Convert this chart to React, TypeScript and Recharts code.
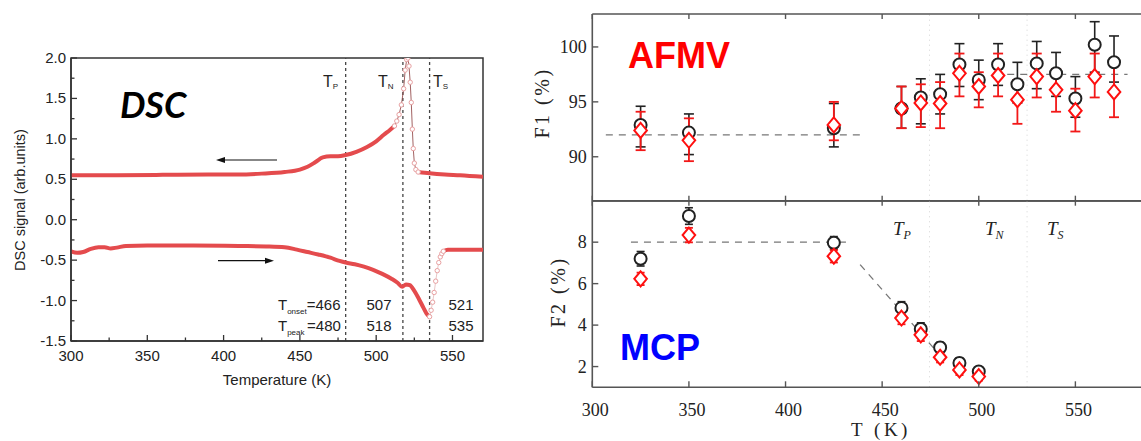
import React from "react";
import {
  LineChart,
  ComposedChart,
  Line,
  Scatter,
  XAxis,
  YAxis,
  ErrorBar,
  ReferenceLine,
  ReferenceArea,
} from "recharts";

const SANS = "'Liberation Sans', Arial, sans-serif";
const SERIF = "'Liberation Serif', 'Times New Roman', serif";

// ---------------- DSC (left panel) ----------------
const dscXTicks = [300, 325, 350, 375, 400, 425, 450, 475, 500, 525, 550];
const dscYTicks = [-1.5, -1.25, -1, -0.75, -0.5, -0.25, 0, 0.25, 0.5, 0.75, 1, 1.25, 1.5, 1.75, 2];
const dscMarkers = [480, 517.5, 535];

// cooling curve (upper)
const coolT1 = [300, 330, 360, 390, 410, 425, 440, 450, 455, 460, 465, 470, 475, 480, 487, 494, 500, 505, 509, 512];
const coolV1 = [0.55, 0.55, 0.555, 0.56, 0.56, 0.57, 0.59, 0.62, 0.655, 0.71, 0.77, 0.785, 0.785, 0.8, 0.84, 0.9, 0.97, 1.05, 1.11, 1.16];
const coolPeakT = [512, 513.5, 515, 516.5, 518, 519, 520, 520.8, 521.5, 522.3, 523, 523.7, 524.3, 525, 526, 527.5];
const coolPeakV = [1.16, 1.22, 1.3, 1.42, 1.62, 1.85, 1.98, 2.0, 1.9, 1.7, 1.45, 1.12, 0.88, 0.7, 0.62, 0.59];
const coolT2 = [527.5, 535, 545, 555, 570];
const coolV2 = [0.59, 0.575, 0.56, 0.55, 0.53];

// heating curve (lower)
const heatT1 = [300, 304, 308, 313, 318, 322, 326, 330, 336, 350, 380, 410, 430, 440, 448, 455, 462, 470, 476, 480, 486, 492, 498, 504, 510, 514, 517, 519.5, 522, 525, 528, 531, 533, 535];
const heatV1 = [-0.39, -0.41, -0.4, -0.36, -0.34, -0.34, -0.355, -0.345, -0.325, -0.32, -0.32, -0.325, -0.33, -0.34, -0.37, -0.4, -0.43, -0.47, -0.51, -0.53, -0.55, -0.58, -0.62, -0.67, -0.73, -0.78, -0.83, -0.8, -0.81, -0.88, -0.98, -1.09, -1.16, -1.2];
const heatDipT = [535, 536, 537, 538, 539, 540, 541, 542, 543, 544];
const heatDipV = [-1.2, -1.12, -1.02, -0.9, -0.76, -0.63, -0.53, -0.46, -0.42, -0.39];
const heatT2 = [544, 547, 555, 570];
const heatV2 = [-0.39, -0.37, -0.37, -0.37];

// ---------------- F1 / F2 (right panels) ----------------
const rXTicks = [300, 350, 400, 450, 500, 550, 600];
const f1YTicks = [90, 95, 100];
const f2YTicks = [2, 4, 6, 8];

const f1T = [325, 350, 425, 460, 470, 480, 490, 500, 510, 520, 530, 540, 550, 560, 570];
const f1Black = [92.9, 92.2, 92.6, 94.4, 95.4, 95.7, 98.4, 97.0, 98.4, 96.6, 98.5, 97.6, 95.3, 100.2, 98.6];
const f1BlackLo = [2.0, 2.0, 1.7, 1.8, 2.4, 1.8, 2.0, 1.8, 1.9, 1.7, 2.3, 2.1, 1.7, 2.5, 1.8];
const f1BlackHi = [1.7, 1.7, 2.25, 2.0, 1.7, 1.8, 1.9, 1.8, 1.9, 2.0, 2.0, 1.9, 2.0, 2.1, 2.4];
const f1Red = [92.4, 91.5, 92.9, 94.4, 94.9, 94.85, 97.6, 96.4, 97.4, 95.2, 97.3, 96.1, 94.2, 97.3, 95.9];
const f1RedLo = [1.8, 1.9, 1.4, 1.8, 2.2, 2.25, 2.1, 1.9, 1.9, 2.2, 1.9, 2.0, 1.9, 1.9, 2.3];
const f1RedHi = [1.7, 2.0, 2.1, 2.0, 1.7, 1.95, 1.8, 1.3, 2.0, 1.8, 2.1, 1.9, 2.0, 2.1, 2.4];

const f2T = [325, 350, 425, 460, 470, 480, 490, 500];
const f2Black = [7.2, 9.26, 7.97, 4.83, 3.81, 2.92, 2.17, 1.76];
const f2BlackErr = [0.35, 0.4, 0.3, 0.3, 0.3, 0.25, 0.25, 0.2];
const f2Red = [6.23, 8.34, 7.32, 4.34, 3.53, 2.45, 1.84, 1.52];
const f2RedErr = [0.3, 0.35, 0.3, 0.3, 0.3, 0.25, 0.25, 0.2];

// guide lines (dashed) and transition markers (dotted)
const f1GuideA = { x: [307, 441], y: [92, 92] };
const f1GuideB = { x: [508, 577], y: [97.5, 97.5] };
const f2GuideA = { x: [320, 434], y: [8, 8] };
const f2GuideB = { x: [438.6, 478], y: [6.92, 2.75] };
const rMarkers = [474.5, 525];

const pts = (t: number[], v: number[]) => t.map((T, i) => ({ T, v: v[i] }));
const ptsErr = (t: number[], v: number[], lo: number[], hi: number[]) =>
  t.map((T, i) => ({ T, v: v[i], e: [lo[i], hi[i]] }));
const seg = (g: { x: number[]; y: number[] }) => [
  { x: g.x[0], y: g.y[0] },
  { x: g.x[1], y: g.y[1] },
];

// ---------------- tick renderers ----------------
const DscXTick = (props: any) => {
  const { x, y, payload } = props;
  const v = payload.value;
  const major = v % 50 === 0;
  return (
    <g>
      <line x1={x} x2={x} y1={y} y2={y - (major ? 6 : 3.5)} stroke="#333" strokeWidth={1.3} />
      {major && (
        <text x={x} y={y + 20} textAnchor="middle" fontFamily={SANS} fontSize={15} fill="#222">
          {v}
        </text>
      )}
    </g>
  );
};

const DscYTick = (props: any) => {
  const { x, y, payload } = props;
  const v = payload.value;
  const major = Math.abs(v * 2 - Math.round(v * 2)) < 1e-6;
  return (
    <g>
      <line x1={x} x2={x + (major ? 6 : 3.5)} y1={y} y2={y} stroke="#333" strokeWidth={1.3} />
      {major && (
        <text x={x - 5} y={y + 5} textAnchor="end" fontFamily={SANS} fontSize={15} fill="#222">
          {v.toFixed(1)}
        </text>
      )}
    </g>
  );
};

const RXTickLabel = (props: any) => {
  const { x, y, payload } = props;
  return (
    <g>
      <line x1={x} x2={x} y1={y} y2={y - 6} stroke="#555" strokeWidth={1.4} />
      {payload.value < 600 && (
        <text x={x + 3} y={y + 28.5} textAnchor="middle" fontFamily={SERIF} fontSize={18} fill="#222">
          {payload.value}
        </text>
      )}
    </g>
  );
};
const RXTickUp = (props: any) => (
  <line x1={props.x} x2={props.x} y1={props.y} y2={props.y - 5} stroke="#555" strokeWidth={1.4} />
);
const RXTickDown = (props: any) => (
  <line x1={props.x} x2={props.x} y1={props.y} y2={props.y + 5} stroke="#555" strokeWidth={1.4} />
);
const RYTick = (props: any) => {
  const { x, y, payload } = props;
  return (
    <g>
      <line x1={x} x2={x + 6} y1={y} y2={y} stroke="#555" strokeWidth={1.4} />
      <text x={x - 5.5} y={y + 6} textAnchor="end" fontFamily={SERIF} fontSize={18} fill="#222">
        {payload.value}
      </text>
    </g>
  );
};

// ---------------- marker shapes ----------------
const OpenCircle = (p: any) => (
  <circle cx={p.cx} cy={p.cy} r={6} fill="#fff" stroke="#222" strokeWidth={2} />
);
const OpenDiamond = (p: any) => (
  <polygon
    points={`${p.cx},${p.cy - 7.5} ${p.cx + 6.3},${p.cy} ${p.cx},${p.cy + 7.5} ${p.cx - 6.3},${p.cy}`}
    fill="#fff"
    stroke="#ff1010"
    strokeWidth={2}
  />
);

const axisR = { stroke: "#555", strokeWidth: 1.6 };
const axisL = { stroke: "#333", strokeWidth: 1.5 };
const RED = "#e44b4d";

export default function App() {
  return (
    <div
      style={{
        position: "absolute",
        left: 0,
        top: 0,
        width: 1141,
        height: 441,
        overflow: "hidden",
        background: "#fff",
      }}
    >
      {/* ---------- DSC panel ---------- */}
      <div style={{ position: "absolute", left: 0, top: 0 }}>
        <LineChart width={500} height={400} margin={{ top: 58, right: 17, bottom: 29, left: 21 }}>
          <XAxis
            type="number"
            dataKey="T"
            domain={[300, 570]}
            allowDataOverflow
            ticks={dscXTicks}
            interval={0}
            height={30}
            tickSize={0}
            tickMargin={0}
            tickLine={false}
            axisLine={axisL}
            tick={(p: any) => <DscXTick {...p} />}
          />
          <YAxis
            type="number"
            domain={[-1.5, 2]}
            allowDataOverflow
            ticks={dscYTicks}
            interval={0}
            width={50}
            tickSize={0}
            tickMargin={0}
            tickLine={false}
            axisLine={axisL}
            tick={(p: any) => <DscYTick {...p} />}
          />
          <ReferenceArea x1={300} x2={570} y1={-1.5} y2={2} fill="none" stroke="#333" strokeWidth={1.5} />
          {dscMarkers.map((m) => (
            <ReferenceLine key={m} x={m} stroke="#444" strokeWidth={1.3} strokeDasharray="3 3" />
          ))}
          <Line data={pts(coolT1, coolV1)} dataKey="v" type="monotone" stroke={RED} strokeWidth={4} dot={false} isAnimationActive={false} />
          <Line data={pts(coolT2, coolV2)} dataKey="v" type="monotone" stroke={RED} strokeWidth={4} dot={false} isAnimationActive={false} />
          <Line
            data={pts(coolPeakT, coolPeakV)}
            dataKey="v"
            type="linear"
            stroke="#8a3a3a"
            strokeWidth={0.8}
            dot={{ r: 2.2, stroke: "#e8a0a1", strokeWidth: 1, fill: "#fff" }}
            isAnimationActive={false}
          />
          <Line data={pts(heatT1, heatV1)} dataKey="v" type="monotone" stroke={RED} strokeWidth={4} dot={false} isAnimationActive={false} />
          <Line data={pts(heatT2, heatV2)} dataKey="v" type="monotone" stroke={RED} strokeWidth={4} dot={false} isAnimationActive={false} />
          <Line
            data={pts(heatDipT, heatDipV)}
            dataKey="v"
            type="linear"
            stroke="#d9a0a0"
            strokeWidth={0.6}
            dot={{ r: 2.2, stroke: "#e8a0a1", strokeWidth: 1, fill: "#fff" }}
            isAnimationActive={false}
          />
        </LineChart>
      </div>

      {/* ---------- F1 panel ---------- */}
      <div style={{ position: "absolute", left: 540, top: 0 }}>
        <ComposedChart width={632} height={210} margin={{ top: 13, right: 0, bottom: 8.3, left: 12.3 }}>
          <XAxis
            xAxisId="b"
            type="number"
            dataKey="T"
            domain={[300, 600]}
            allowDataOverflow
            ticks={rXTicks}
            interval={0}
            height={1}
            tickSize={0}
            tickMargin={0}
            tickLine={false}
            axisLine={axisR}
            tick={(p: any) => <RXTickUp {...p} />}
          />
          <XAxis
            xAxisId="t"
            orientation="top"
            type="number"
            dataKey="T"
            domain={[300, 600]}
            allowDataOverflow
            ticks={rXTicks}
            interval={0}
            height={1}
            tickSize={0}
            tickMargin={0}
            tickLine={false}
            axisLine={axisR}
            tick={(p: any) => <RXTickDown {...p} />}
          />
          <YAxis
            type="number"
            domain={[86, 103]}
            allowDataOverflow
            ticks={f1YTicks}
            interval={0}
            width={40}
            tickSize={0}
            tickMargin={0}
            tickLine={false}
            axisLine={axisR}
            tick={(p: any) => <RYTick {...p} />}
          />
          <ReferenceLine xAxisId="b" y={86} stroke="#555" strokeWidth={1.6} />
          {rMarkers.map((m) => (
            <ReferenceLine key={m} xAxisId="b" x={m} stroke="#d4d4d4" strokeWidth={1} strokeDasharray="1 4" />
          ))}
          <ReferenceLine xAxisId="b" segment={seg(f1GuideA)} stroke="#777" strokeWidth={1.3} strokeDasharray="7 6" />
          <ReferenceLine xAxisId="b" segment={seg(f1GuideB)} stroke="#777" strokeWidth={1.3} strokeDasharray="7 6" />
          <Scatter
            xAxisId="b"
            data={ptsErr(f1T, f1Black, f1BlackLo, f1BlackHi)}
            dataKey="v"
            shape={(p: any) => <OpenCircle {...p} />}
            isAnimationActive={false}
          >
            <ErrorBar dataKey="e" direction="y" width={5} stroke="#222" strokeWidth={1.6} />
          </Scatter>
          <Scatter
            xAxisId="b"
            data={ptsErr(f1T, f1Red, f1RedLo, f1RedHi)}
            dataKey="v"
            shape={(p: any) => <OpenDiamond {...p} />}
            isAnimationActive={false}
          >
            <ErrorBar dataKey="e" direction="y" width={5} stroke="#f21818" strokeWidth={1.8} />
          </Scatter>
        </ComposedChart>
      </div>

      {/* ---------- F2 panel ---------- */}
      <div style={{ position: "absolute", left: 540, top: 190 }}>
        <ComposedChart width={632} height={251} margin={{ top: 9.7, right: 0, bottom: 0, left: 12.3 }}>
          <XAxis
            xAxisId="b"
            type="number"
            dataKey="T"
            domain={[300, 600]}
            allowDataOverflow
            ticks={rXTicks}
            interval={0}
            height={53.7}
            tickSize={0}
            tickMargin={0}
            tickLine={false}
            axisLine={axisR}
            tick={(p: any) => <RXTickLabel {...p} />}
          />
          <XAxis
            xAxisId="t"
            orientation="top"
            type="number"
            dataKey="T"
            domain={[300, 600]}
            allowDataOverflow
            ticks={rXTicks}
            interval={0}
            height={1}
            tickSize={0}
            tickMargin={0}
            tickLine={false}
            axisLine={axisR}
            tick={(p: any) => <RXTickDown {...p} />}
          />
          <YAxis
            type="number"
            domain={[1, 10]}
            allowDataOverflow
            ticks={f2YTicks}
            interval={0}
            width={40}
            tickSize={0}
            tickMargin={0}
            tickLine={false}
            axisLine={axisR}
            tick={(p: any) => <RYTick {...p} />}
          />
          <ReferenceLine xAxisId="b" y={10} stroke="#555" strokeWidth={1.6} />
          {rMarkers.map((m) => (
            <ReferenceLine key={m} xAxisId="b" x={m} stroke="#d4d4d4" strokeWidth={1} strokeDasharray="1 4" />
          ))}
          <ReferenceLine xAxisId="b" segment={seg(f2GuideA)} stroke="#777" strokeWidth={1.3} strokeDasharray="7 6" />
          <ReferenceLine xAxisId="b" segment={seg(f2GuideB)} stroke="#777" strokeWidth={1.3} strokeDasharray="7 6" />
          <Scatter
            xAxisId="b"
            data={ptsErr(f2T, f2Black, f2BlackErr, f2BlackErr)}
            dataKey="v"
            shape={(p: any) => <OpenCircle {...p} />}
            isAnimationActive={false}
          >
            <ErrorBar dataKey="e" direction="y" width={4} stroke="#222" strokeWidth={1.6} />
          </Scatter>
          <Scatter
            xAxisId="b"
            data={ptsErr(f2T, f2Red, f2RedErr, f2RedErr)}
            dataKey="v"
            shape={(p: any) => <OpenDiamond {...p} />}
            isAnimationActive={false}
          >
            <ErrorBar dataKey="e" direction="y" width={4} stroke="#f21818" strokeWidth={1.8} />
          </Scatter>
        </ComposedChart>
      </div>

      {/* ---------- text annotations ---------- */}
      <svg
        width={1141}
        height={441}
        style={{ position: "absolute", left: 0, top: 0, pointerEvents: "none" }}
      >
        {/* DSC panel */}
        <text x={120} y={118} fontFamily="Lato, 'Liberation Sans', sans-serif" fontWeight="bold" fontStyle="italic" fontSize={36} fill="#000">
          DSC
        </text>
        <text
          x={20}
          y={200}
          transform="rotate(-90 20 200)"
          textAnchor="middle"
          dominantBaseline="central"
          fontFamily={SANS}
          fontSize={14.5}
          fill="#222"
        >
          DSC signal (arb.units)
        </text>
        <text x={277} y={385} textAnchor="middle" fontFamily={SANS} fontSize={15} fill="#222">
          Temperature (K)
        </text>
        <text x={323} y={87} fontFamily={SANS} fontSize={16} fill="#222">
          T<tspan fontSize={8} dy={2}>P</tspan>
        </text>
        <text x={378} y={87} fontFamily={SANS} fontSize={16} fill="#222">
          T<tspan fontSize={8} dy={2}>N</tspan>
        </text>
        <text x={433} y={87} fontFamily={SANS} fontSize={16} fill="#222">
          T<tspan fontSize={8} dy={2}>S</tspan>
        </text>
        {/* arrows */}
        <line x1={277} y1={160} x2={222} y2={160} stroke="#111" strokeWidth={1.2} />
        <polygon points="216,160 225,157 225,163" fill="#111" />
        <line x1={218} y1={260.7} x2={268} y2={260.7} stroke="#111" strokeWidth={1.2} />
        <polygon points="274,260.7 265,257.7 265,263.7" fill="#111" />
        {/* onset / peak values */}
        <text x={278} y={310} fontFamily={SANS} fontSize={15} fill="#222">
          T<tspan fontSize={8} dy={4}>onset</tspan>
          <tspan dy={-4}>=466</tspan>
        </text>
        <text x={278} y={331} fontFamily={SANS} fontSize={15} fill="#222">
          T<tspan fontSize={8} dy={4}>peak</tspan>
          <tspan dy={-4} dx={2.5}>=480</tspan>
        </text>
        <text x={379} y={310} textAnchor="middle" fontFamily={SANS} fontSize={15} fill="#222">507</text>
        <text x={379} y={331} textAnchor="middle" fontFamily={SANS} fontSize={15} fill="#222">518</text>
        <text x={461} y={310} textAnchor="middle" fontFamily={SANS} fontSize={15} fill="#222">521</text>
        <text x={461} y={331} textAnchor="middle" fontFamily={SANS} fontSize={15} fill="#222">535</text>

        {/* right panels */}
        <text x={628} y={68} fontFamily={SANS} fontWeight="bold" fontSize={36} fill="#ff0000">
          AFMV
        </text>
        <text x={620} y={360} fontFamily={SANS} fontWeight="bold" fontSize={36} fill="#0000ff">
          MCP
        </text>
        <text
          x={542}
          y={103}
          transform="rotate(-90 542 103)"
          textAnchor="middle"
          dominantBaseline="central"
          fontFamily={SERIF}
          fontSize={20}
          letterSpacing={2.5}
          fill="#222"
        >
          F1 (%)
        </text>
        <text
          x={558}
          y={292}
          transform="rotate(-90 558 292)"
          textAnchor="middle"
          dominantBaseline="central"
          fontFamily={SERIF}
          fontSize={20}
          letterSpacing={2.5}
          fill="#222"
        >
          F2 (%)
        </text>
        <text x={881} y={436} textAnchor="middle" fontFamily={SERIF} fontSize={19} letterSpacing={3.5} fill="#222">
          T (K)
        </text>
        <text x={893} y={235} fontFamily={SERIF} fontStyle="italic" fontSize={19} fill="#222">
          T<tspan fontSize={12} dy={4}>P</tspan>
        </text>
        <text x={985} y={235} fontFamily={SERIF} fontStyle="italic" fontSize={19} fill="#222">
          T<tspan fontSize={12} dy={4}>N</tspan>
        </text>
        <text x={1047} y={235} fontFamily={SERIF} fontStyle="italic" fontSize={19} fill="#222">
          T<tspan fontSize={12} dy={4}>S</tspan>
        </text>
      </svg>
    </div>
  );
}
